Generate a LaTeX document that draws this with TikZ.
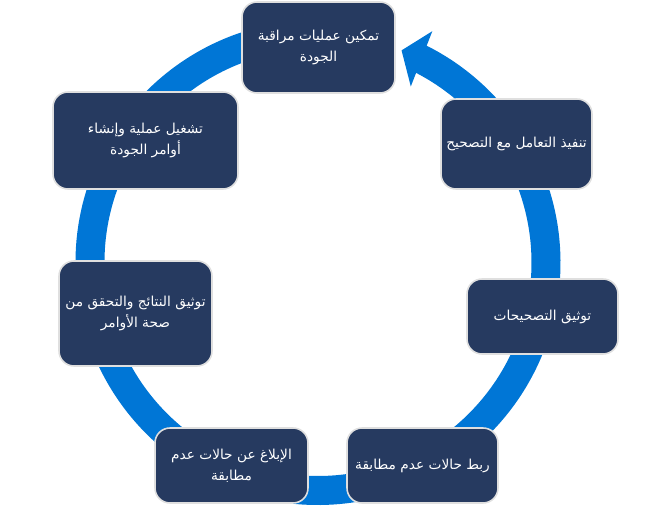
\documentclass[tikz,border=0pt]{standalone}
\usepackage{fontspec}
\newfontfamily\arabicfont[Script=Arabic]{DejaVu Sans}
\TeXXeTstate=1
\usetikzlibrary{calc}
\definecolor{boxblue}{RGB}{38,58,96}
\definecolor{ringblue}{RGB}{0,118,214}
\newcommand{\artext}[1]{\beginR #1\endR}

\begin{document}
\begin{tikzpicture}[
    step box/.style={draw=gray!25, line width=0.9pt, fill=boxblue,
      rounded corners=0.3cm, text=white, align=center, inner sep=0pt,
      font=\arabicfont\fontsize{7.8}{11.8}\selectfont},
    ring/.style={draw=ringblue, line width=0.58cm}
  ]
  \useasboundingbox (0,0) rectangle (13.04,10.12);
  %% cycle ring
  \coordinate (c) at (6.36,4.87);
  \draw[ring] ($(c)+(95:4.56)$) arc[start angle=95, end angle=424, radius=4.56];
  \fill[ringblue] ($(c)+(68.5:4.56)$) -- ($(c)+(63.7:5.16)$)
    -- ($(c)+(62.2:3.98)$) -- cycle; % arrow head
  %% steps
  \node[step box, minimum width=3.06cm, minimum height=1.82cm] (enable) at (6.37,9.17)
    {\artext{تمكين عمليات مراقبة}\\ \artext{الجودة}};
  \node[step box, minimum width=3.70cm, minimum height=1.94cm] (operate) at (2.91,7.31)
    {\artext{تشغيل عملية وإنشاء}\\ \artext{أوامر الجودة}};
  \node[step box, minimum width=3.06cm, minimum height=2.10cm] (verify) at (2.71,3.85)
    {\artext{توثيق النتائج والتحقق من}\\ \artext{صحة الأوامر}};
  \node[step box, minimum width=3.06cm, minimum height=1.50cm] (report) at (4.63,0.81)
    {\artext{الإبلاغ عن حالات عدم}\\ \artext{مطابقة}};
  \node[step box, minimum width=3.02cm, minimum height=1.50cm] (link) at (8.45,0.81)
    {\artext{ربط حالات عدم مطابقة}};
  \node[step box, minimum width=3.02cm, minimum height=1.50cm] (record) at (10.85,3.79)
    {\artext{توثيق التصحيحات}};
  \node[step box, minimum width=3.02cm, minimum height=1.80cm] (apply) at (10.33,7.24)
    {\artext{تنفيذ التعامل مع التصحيح}};
\end{tikzpicture}
\end{document}
